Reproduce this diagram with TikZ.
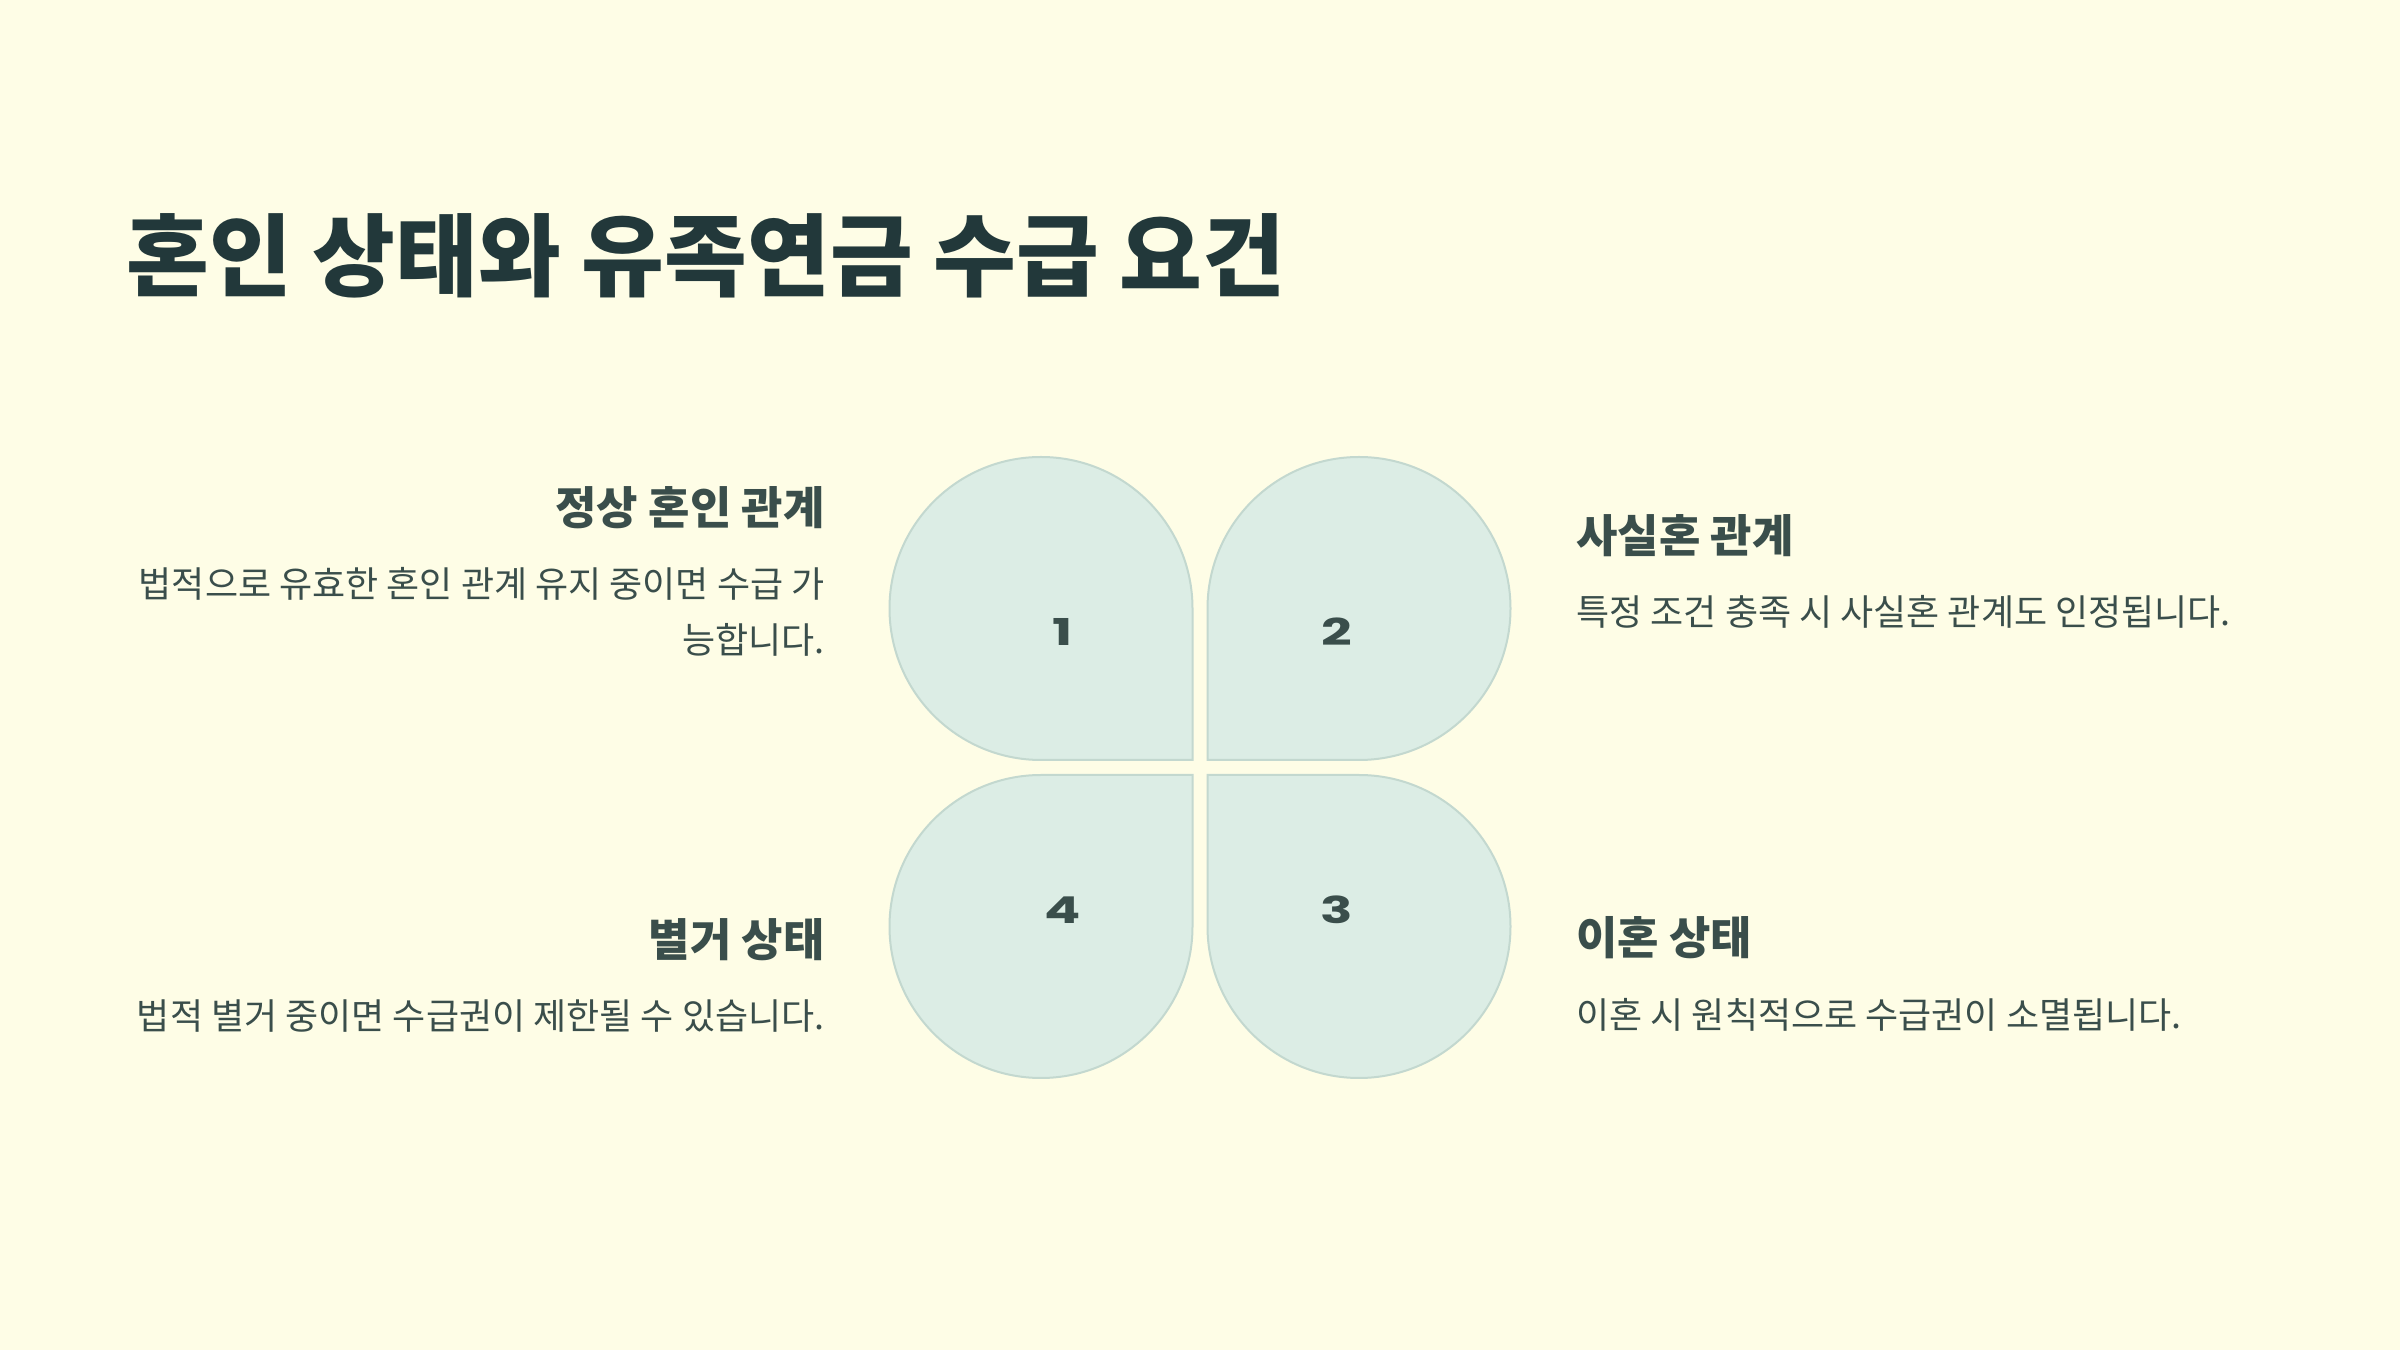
\documentclass[tikz,border=0pt]{standalone}
\usepackage{fontspec}
\setmainfont{Noto Sans CJK KR}
\newfontfamily\numfont{Poppins}[FakeStretch=1.45]
\usepackage{tikz}
\usetikzlibrary{positioning}

\definecolor{bgcream}{HTML}{FEFDE6}
\definecolor{petalfill}{HTML}{DCEDE5}
\definecolor{petaldraw}{HTML}{C3D8CF}
\definecolor{titleink}{HTML}{22383A}
\definecolor{textink}{HTML}{3A4E4B}

\begin{document}
\begin{tikzpicture}[
    x=0.5pt, y=0.5pt,
    petal/.style={fill=petalfill, draw=petaldraw, line width=1pt},
    num/.style={font=\numfont\bfseries\fontsize{18.5}{20}\selectfont, text=textink, inner sep=0},
    heading/.style={font=\bfseries\fontsize{22.5}{26}\selectfont, text=textink, inner sep=0},
    body/.style={font=\fontsize{18}{28}\selectfont, text=textink, inner sep=0}
]
    % Background
    \fill[bgcream] (0,0) rectangle (2400,1350);
    \useasboundingbox (0,0) rectangle (2400,1350);

    % Title
    \node[anchor=west, inner sep=0, text=titleink, font=\bfseries\fontsize{45}{50}\selectfont] (title) at (126,1094.5) {혼인 상태와 유족연금 수급 요건};

    % Petal centres
    \coordinate (c1) at (1041,741.5);
    \coordinate (c2) at (1359,741.5);
    \coordinate (c3) at (1359,423.5);
    \coordinate (c4) at (1041,423.5);

    % Petals
    \draw[petal] (c1) ++(151.5,0) -- ++(0,-151.5) -- ++(-151.5,0) arc[start angle=-90, end angle=-360, radius=151.5] -- cycle;
    \draw[petal] (c2) ++(0,-151.5) -- ++(-151.5,0) -- ++(0,151.5) arc[start angle=180, end angle=-90, radius=151.5] -- cycle;
    \draw[petal] (c3) ++(-151.5,0) -- ++(0,151.5) -- ++(151.5,0) arc[start angle=90, end angle=-180, radius=151.5] -- cycle;
    \draw[petal] (c4) ++(0,151.5) -- ++(151.5,0) -- ++(0,-151.5) arc[start angle=0, end angle=-270, radius=151.5] -- cycle;

    % Numbers
    \node[num] (num1) at (1063,718) {1};
    \node[num] (num2) at (1337,718) {2};
    \node[num] (num3) at (1337,440) {3};
    \node[num] (num4) at (1063,440) {4};

    % Left side
    \node[heading, anchor=east] (head1) at (825,842.5) {정상 혼인 관계};
    \node[body, anchor=east, align=right] (body1) at (825,738) {법적으로 유효한 혼인 관계 유지 중이면 수급 가\\능합니다.};
    \node[heading, anchor=east] (head4) at (825,410.5) {별거 상태};
    \node[body, anchor=east] (body4) at (825,334) {법적 별거 중이면 수급권이 제한될 수 있습니다.};

    % Right side
    \node[heading, anchor=west] (head2) at (1576,814) {사실혼 관계};
    \node[body, anchor=west] (body2) at (1576,738) {특정 조건 충족 시 사실혼 관계도 인정됩니다.};
    \node[heading, anchor=west] (head3) at (1576,412) {이혼 상태};
    \node[body, anchor=west] (body3) at (1576,335) {이혼 시 원칙적으로 수급권이 소멸됩니다.};
\end{tikzpicture}
\end{document}
